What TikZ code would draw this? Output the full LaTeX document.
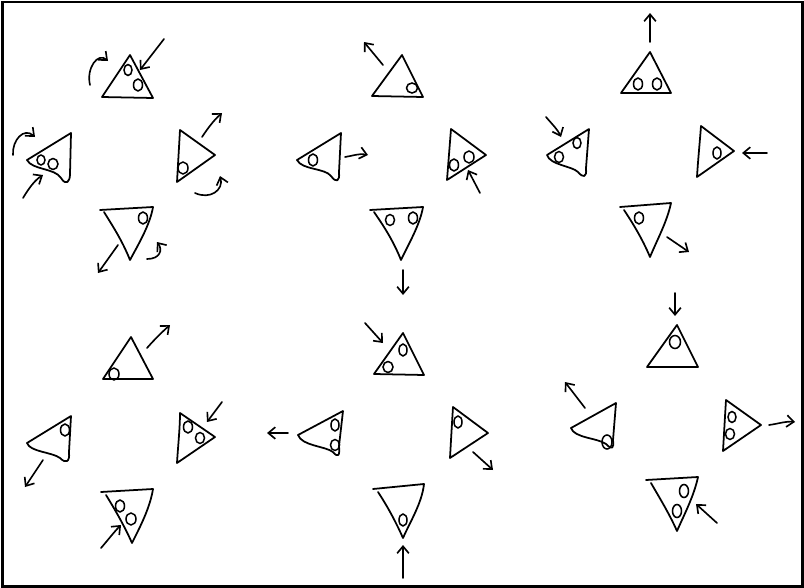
\documentclass[tikz,border=0pt]{standalone}
\usetikzlibrary{arrows.meta}

\begin{document}
\begin{tikzpicture}[
    x=0.03cm, y=-0.03cm,
    tri/.style={line width=1.5pt, line join=round, line cap=round},
    dot/.style={line width=1.3pt},
    mv/.style={line width=1.4pt, line cap=round,
               -{Straight Barb[length=6pt,width=10pt,line width=1.4pt]}},
    frame/.style={line width=1.8pt}
]
\useasboundingbox (0,0) rectangle (804,588);
\draw[frame] (2.5,2) rectangle (802.5,586.5);

% Group 1 - top left
\draw[tri] (130,55) -- (102,97) -- (153,98) -- cycle;
\draw[dot] (128,70) ellipse [x radius=4, y radius=5.5];
\draw[dot] (138,85) ellipse [x radius=4.5, y radius=6];
\draw[mv] (164,39) -- (140,70);
\draw[mv] (90,85) .. controls (86,68) and (98,52) .. (108,61);

\draw[tri] (71,133) -- (27,160) .. controls (32,170) and (55,168) .. (61,178)
    .. controls (66,186) and (70,182) .. (70,174) -- cycle;
\draw[dot] (41,160) ellipse [x radius=4, y radius=5];
\draw[dot] (53,164) ellipse [x radius=5, y radius=5.5];
\draw[mv] (13,155) .. controls (12,140) and (24,127) .. (35,137);
\draw[mv] (23,198) .. controls (29,188) and (35,180) .. (43,175);

\draw[tri] (180,130) -- (215,155) -- (177,182) -- cycle;
\draw[dot] (183,168) ellipse [x radius=5, y radius=6];
\draw[mv] (202,137) .. controls (208,128) and (214,120) .. (222,113);
\draw[mv] (195,193) .. controls (210,200) and (224,190) .. (220,176);

\draw[tri] (100,210) -- (153,207) .. controls (150,225) and (138,245) .. (130,260)
    .. controls (122,240) and (112,225) .. (104,212);
\draw[dot] (143,218) ellipse [x radius=4.5, y radius=6];
\draw[mv] (118,245) -- (98,273);
\draw[mv] (147,259) .. controls (160,259) and (163,250) .. (157,242);

% Group 2 - top middle
\draw[tri] (402,55) -- (372,96) -- (423,97) -- cycle;
\draw[dot] (412,88) ellipse [x radius=5.5, y radius=5];
\draw[mv] (383,65) -- (364,42);

\draw[tri] (341,133) -- (297,160) .. controls (302,170) and (325,168) .. (331,176)
    .. controls (336,183) and (340,182) .. (339,172) -- cycle;
\draw[dot] (313,160) ellipse [x radius=4.5, y radius=6];
\draw[mv] (345,157) .. controls (352,156) and (360,153) .. (368,155);

\draw[tri] (451,129) -- (486,155) -- (447,180) -- cycle;
\draw[dot] (454,165) ellipse [x radius=4.5, y radius=6];
\draw[dot] (469,157) ellipse [x radius=5, y radius=6];
\draw[mv] (480,193) -- (468,170);

\draw[tri] (370,210) -- (423,207) .. controls (420,225) and (408,245) .. (401,260)
    .. controls (393,240) and (383,225) .. (374,212);
\draw[dot] (390,220) ellipse [x radius=4.5, y radius=5.5];
\draw[dot] (413,218) ellipse [x radius=4.5, y radius=6];
\draw[mv] (403,270) -- (403,295);

% Group 3 - top right
\draw[tri] (650,52) -- (621,93) -- (671,93) -- cycle;
\draw[dot] (638,84) ellipse [x radius=4.5, y radius=6];
\draw[dot] (657,84) ellipse [x radius=4.5, y radius=6];
\draw[mv] (650,42) -- (650,13);

\draw[tri] (589,129) -- (547,155) .. controls (550,165) and (572,166) .. (578,172)
    .. controls (583,178) and (587,178) .. (586,168) -- cycle;
\draw[dot] (577,143) ellipse [x radius=4, y radius=5.5];
\draw[dot] (559,157) ellipse [x radius=4.5, y radius=5.5];
\draw[mv] (546,117) .. controls (552,124) and (558,130) .. (561,137);

\draw[tri] (701,126) -- (734,151) -- (697,177) .. controls (698,160) and (700,140) .. cycle;
\draw[dot] (717,153) ellipse [x radius=4, y radius=6];
\draw[mv] (767,153) -- (742,153);

\draw[tri] (620,207) -- (671,203) .. controls (667,222) and (657,240) .. (650,257)
    .. controls (642,238) and (632,222) .. (624,210);
\draw[dot] (639,218) ellipse [x radius=4.5, y radius=6];
\draw[mv] (667,237) -- (689,252);

% Group 4 - bottom left
\draw[tri] (131,337) -- (103,379) -- (153,379) -- cycle;
\draw[dot] (114,374) ellipse [x radius=5, y radius=6];
\draw[mv] (147,348) .. controls (154,340) and (162,332) .. (170,325);

\draw[tri] (71,416) -- (27,443) .. controls (30,452) and (52,452) .. (60,458)
    .. controls (66,464) and (70,462) .. (69,452) -- cycle;
\draw[dot] (65,430) ellipse [x radius=4.5, y radius=6];
\draw[mv] (43,460) -- (25,487);

\draw[tri] (180,413) -- (215,437) -- (177,463) .. controls (178,446) and (180,428) .. cycle;
\draw[dot] (188,427) ellipse [x radius=4.5, y radius=6];
\draw[dot] (200,438) ellipse [x radius=4.5, y radius=5.5];
\draw[mv] (222,402) -- (207,422);

\draw[tri] (101,492) -- (153,489) .. controls (150,508) and (140,527) .. (132,543)
    .. controls (124,525) and (114,508) .. (106,495);
\draw[dot] (120,506) ellipse [x radius=4.5, y radius=6];
\draw[dot] (131,519) ellipse [x radius=5, y radius=6];
\draw[mv] (101,548) .. controls (108,540) and (114,532) .. (121,525);

% Group 5 - bottom middle
\draw[tri] (403,333) -- (374,374) -- (424,375) -- cycle;
\draw[dot] (403,350) ellipse [x radius=4, y radius=6];
\draw[dot] (388,367) ellipse [x radius=5, y radius=5.5];
\draw[mv] (365,323) -- (383,343);

\draw[tri] (343,411) -- (298,435) .. controls (302,446) and (325,446) .. (333,452)
    .. controls (338,458) and (340,456) .. (339,446) -- cycle;
\draw[dot] (335,425) ellipse [x radius=4, y radius=6];
\draw[dot] (335,445) ellipse [x radius=4.5, y radius=5.5];
\draw[mv] (288,433) -- (267,433);

\draw[tri] (453,407) -- (488,433) -- (450,458) .. controls (451,440) and (452,423) .. cycle;
\draw[dot] (458,422) ellipse [x radius=4, y radius=6];
\draw[mv] (473,452) -- (493,470);

\draw[tri] (373,489) -- (424,484) .. controls (422,503) and (410,522) .. (403,538)
    .. controls (395,520) and (386,504) .. (378,492);
\draw[dot] (403,520) ellipse [x radius=4, y radius=6];
\draw[mv] (403,578) -- (403,545);

% Group 6 - bottom right
\draw[tri] (677,325) -- (647,367) -- (698,367) -- cycle;
\draw[dot] (675,342) ellipse [x radius=5.5, y radius=6.5];
\draw[mv] (675,293) -- (675,316);

\draw[tri] (616,403) -- (571,428) .. controls (574,438) and (598,438) .. (606,444)
    .. controls (612,450) and (614,449) .. (613,440) -- cycle;
\draw[dot] (607,442) ellipse [x radius=5, y radius=7];
\draw[mv] (585,408) -- (565,382);

\draw[tri] (726,400) -- (761,425) -- (723,451) .. controls (724,434) and (725,416) .. cycle;
\draw[dot] (732,417) ellipse [x radius=4, y radius=5.5];
\draw[dot] (730,434) ellipse [x radius=4.5, y radius=5.5];
\draw[mv] (769,425) .. controls (777,424) and (786,421) .. (795,422);

\draw[tri] (646,480) -- (698,477) .. controls (694,496) and (684,515) .. (677,531)
    .. controls (669,513) and (659,497) .. (651,483);
\draw[dot] (684,491) ellipse [x radius=4.5, y radius=6.5];
\draw[dot] (677,511) ellipse [x radius=4.5, y radius=6.5];
\draw[mv] (717,523) -- (696,504);
\end{tikzpicture}
\end{document}
